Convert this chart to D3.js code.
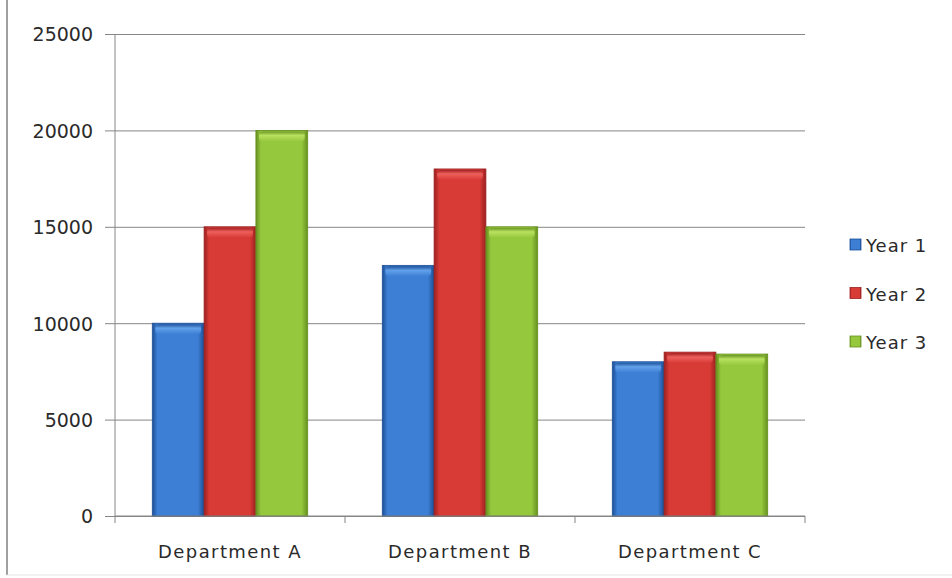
<!DOCTYPE html>
<html>
<head>
<meta charset="utf-8">
<script src="https://cdn.jsdelivr.net/npm/d3@7"></script>
<style>
body { margin: 0; background: #fff; }
text { font-family: "DejaVu Sans", sans-serif; fill: #333; }
</style>
</head>
<body>
<div class="mydiv"></div>
<script>
var width = 952;
var height = 578;

var departments = ["Department A", "Department B", "Department C"];
var years = ["Year 1", "Year 2", "Year 3"];
var year1 = [10000, 13000, 8000];
var year2 = [15000, 18000, 8500];
var year3 = [20000, 15000, 8400];
var yTicks = [0, 5000, 10000, 15000, 20000, 25000];

// base colours for the bars: dark edge, mid, light
var colors = [
	{ dark: "#1d4f96", mid: "#3c7fd4", light: "#66a4ec" },
	{ dark: "#9c2020", mid: "#d83a36", light: "#f06460" },
	{ dark: "#66901f", mid: "#96c83e", light: "#bce463" }
];

var margin = { left: 115, right: 147, top: 34, bottom: 62 };

var svg = d3.select(".mydiv")
	.append("svg")
	.attr("width", width)
	.attr("height", height);

// chart frame
svg.append("line").attr("x1", 7).attr("x2", 7).attr("y1", 0).attr("y2", 575)
	.attr("stroke", "#a0a0a0").attr("stroke-width", 2);
svg.append("line").attr("x1", 7).attr("x2", width).attr("y1", 575).attr("y2", 575)
	.attr("stroke", "#e4e4e4").attr("stroke-width", 1);

var x = d3.scaleBand()
	.domain(departments)
	.range([margin.left, width - margin.right]);

var xInner = d3.scaleBand()
	.domain(years)
	.range([0, x.bandwidth()])
	.paddingOuter(0.72)
	.paddingInner(0);

var y = d3.scaleLinear()
	.domain([0, 25000])
	.range([height - margin.bottom, margin.top]);

// gradients
var defs = svg.append("defs");
colors.forEach(function(c, i) {
	var g = defs.append("linearGradient").attr("id", "grad" + i)
		.attr("x1", "0%").attr("x2", "100%").attr("y1", "0%").attr("y2", "0%");
	g.append("stop").attr("offset", "0%").attr("stop-color", c.dark);
	g.append("stop").attr("offset", "10%").attr("stop-color", c.mid);
	g.append("stop").attr("offset", "40%").attr("stop-color", c.mid);
	g.append("stop").attr("offset", "88%").attr("stop-color", c.mid);
	g.append("stop").attr("offset", "100%").attr("stop-color", c.dark);
	var t = defs.append("linearGradient").attr("id", "top" + i)
		.attr("x1", "0%").attr("x2", "0%").attr("y1", "0%").attr("y2", "100%");
	t.append("stop").attr("offset", "0%").attr("stop-color", c.dark);
	t.append("stop").attr("offset", "40%").attr("stop-color", c.light);
	t.append("stop").attr("offset", "100%").attr("stop-color", c.mid);
});

// gridlines
svg.append("g")
	.attr("transform", "translate(" + margin.left + ",0)")
	.call(d3.axisLeft(y).tickValues(yTicks).tickSize(-(width - margin.left - margin.right)).tickFormat(""))
	.call(function(g) {
		g.select(".domain").remove();
		g.selectAll("line").attr("stroke", "#868686");
	});

// y axis
var yAxis = svg.append("g")
	.attr("transform", "translate(" + margin.left + ",0)")
	.call(d3.axisLeft(y).tickValues(yTicks).tickSize(10).tickPadding(12).tickFormat(d3.format("d")));
yAxis.select(".domain").attr("stroke", "#868686").attr("d", "M0," + y(0) + "V" + y(25000));
yAxis.selectAll("line").attr("stroke", "#868686");
yAxis.selectAll("text").style("font-size", "19px").style("fill", "#2a2a2a").attr("dy", "0.36em");

// bars
var series = [year1, year2, year3];
var groups = svg.selectAll(".dept")
	.data(departments)
	.enter()
	.append("g")
	.attr("transform", function(d) { return "translate(" + x(d) + ",0)"; });

groups.each(function(dept, di) {
	var g = d3.select(this);
	var data = years.map(function(yr, si) { return { year: yr, si: si, value: series[si][di] }; });
	g.selectAll("rect.bar")
		.data(data)
		.enter()
		.append("rect")
		.attr("class", "bar")
		.attr("x", function(d) { return xInner(d.year); })
		.attr("y", function(d) { return y(d.value); })
		.attr("width", xInner.bandwidth())
		.attr("height", function(d) { return y(0) - y(d.value); })
		.attr("fill", function(d) { return "url(#grad" + d.si + ")"; })
		.attr("stroke", function(d) { return colors[d.si].dark; })
		.attr("stroke-width", 0.8);
	g.selectAll("rect.cap")
		.data(data)
		.enter()
		.append("rect")
		.attr("class", "cap")
		.attr("x", function(d) { return xInner(d.year) + 3; })
		.attr("y", function(d) { return y(d.value) + 1; })
		.attr("width", xInner.bandwidth() - 6)
		.attr("height", 10)
		.attr("rx", 4)
		.attr("fill", function(d) { return "url(#top" + d.si + ")"; })
		.attr("opacity", 0.9);
});

// x axis
var xAxisLine = svg.append("g").attr("transform", "translate(0," + y(0) + ")");
xAxisLine.append("line")
	.attr("x1", margin.left).attr("x2", width - margin.right)
	.attr("stroke", "#868686");
var tickXs = departments.map(function(d) { return x(d); }).concat([x(departments[2]) + x.bandwidth()]);
xAxisLine.selectAll("line.tick")
	.data(tickXs)
	.enter()
	.append("line")
	.attr("class", "tick")
	.attr("x1", function(d) { return d; }).attr("x2", function(d) { return d; })
	.attr("y1", 0).attr("y2", 7)
	.attr("stroke", "#868686");
xAxisLine.selectAll("text")
	.data(departments)
	.enter()
	.append("text")
	.attr("x", function(d) { return x(d) + x.bandwidth() / 2; })
	.attr("y", 42)
	.attr("text-anchor", "middle")
	.style("font-size", "18px")
	.style("letter-spacing", "1.4px")
	.style("fill", "#2a2a2a")
	.text(function(d) { return d; });

// legend
var legend = svg.append("g")
	.selectAll("g")
	.data(years)
	.enter()
	.append("g")
	.attr("transform", function(d, i) { return "translate(850," + (245 + i * 48.5) + ")"; });
legend.append("rect")
	.attr("x", 0).attr("y", -6)
	.attr("width", 11).attr("height", 11)
	.attr("fill", function(d, i) { return "url(#grad" + i + ")"; })
	.attr("stroke", function(d, i) { return colors[i].dark; })
	.attr("stroke-width", 0.8);
legend.append("text")
	.attr("x", 16).attr("y", 7)
	.style("font-size", "18px")
	.style("letter-spacing", "1px")
	.style("fill", "#2a2a2a")
	.text(function(d) { return d; });
</script>
</body>
</html>
